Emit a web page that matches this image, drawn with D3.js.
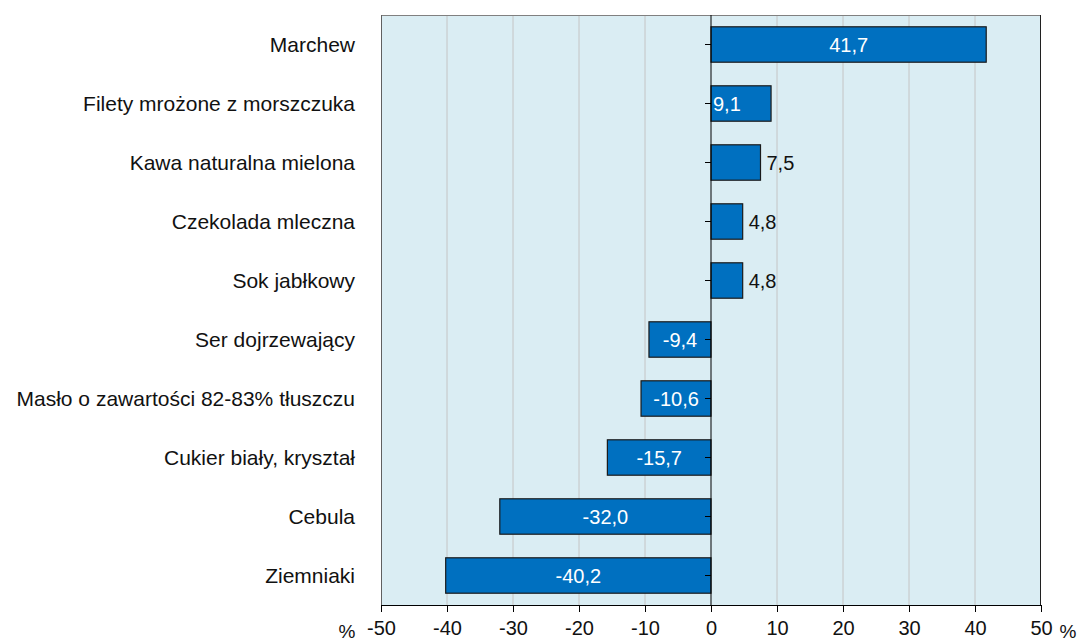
<!DOCTYPE html>
<html>
<head>
<meta charset="utf-8">
<script src="https://cdn.jsdelivr.net/npm/d3@7"></script>
<style>
  body { margin: 0; background: #fff; }
  text { font-family: "Liberation Sans", Arial, sans-serif; }
</style>
</head>
<body>
<div id="chart"></div>
<script>
var categories = ["Marchew", "Filety mrożone z morszczuka", "Kawa naturalna mielona",
    "Czekolada mleczna", "Sok jabłkowy", "Ser dojrzewający",
    "Masło o zawartości 82-83% tłuszczu", "Cukier biały, kryształ", "Cebula", "Ziemniaki"];
var values = [41.7, 9.1, 7.5, 4.8, 4.8, -9.4, -10.6, -15.7, -32.0, -40.2];
var xTicks = [-50, -40, -30, -20, -10, 0, 10, 20, 30, 40, 50];

var W = 1084, H = 642;
var margin = { top: 15, right: 43, bottom: 37, left: 381 },
    width = W - margin.left - margin.right,
    height = H - margin.top - margin.bottom;

var svg = d3.select("#chart").append("svg")
    .attr("width", W).attr("height", H)
    .append("g")
    .attr("transform", "translate(" + margin.left + "," + margin.top + ")");

var x = d3.scaleLinear().domain([-50, 50]).range([0, width]);
var y = d3.scaleBand().domain(categories).range([0, height]).paddingInner(0.4).paddingOuter(0.2);
var yc = d3.scaleBand().domain(categories).range([0, height]);

// background
svg.append("rect").attr("width", width).attr("height", height).attr("fill", "#daedf3");

// gridlines
svg.selectAll(".grid").data(xTicks.filter(function (d) { return d != 0 && Math.abs(d) != 50; }))
    .enter().append("line")
    .attr("x1", function (d) { return x(d); }).attr("x2", function (d) { return x(d); })
    .attr("y1", 0).attr("y2", height)
    .attr("stroke", "#c4c4c4").attr("stroke-width", 1);

// frame
svg.append("line").attr("x1", 0).attr("x2", width).attr("y1", 0.5).attr("y2", 0.5).attr("stroke", "#808080");
svg.append("line").attr("x1", 0.5).attr("x2", 0.5).attr("y1", 0).attr("y2", height).attr("stroke", "#606060");
svg.append("line").attr("x1", width - 0.5).attr("x2", width - 0.5).attr("y1", 0).attr("y2", height).attr("stroke", "#202020");

// bars
svg.selectAll(".bar").data(values).enter().append("rect")
    .attr("x", function (d) { return x(Math.min(0, d)); })
    .attr("y", function (d, i) { return y(categories[i]); })
    .attr("width", function (d) { return Math.abs(x(d) - x(0)); })
    .attr("height", y.bandwidth())
    .attr("fill", "#0070c0")
    .attr("stroke", "#1a1a1a").attr("stroke-width", 1.2);

// zero line
svg.append("line").attr("x1", x(0)).attr("x2", x(0)).attr("y1", 0).attr("y2", height)
    .attr("stroke", "#000").attr("stroke-width", 1);

// category ticks on zero line
svg.selectAll(".ytick").data(categories).enter().append("line")
    .attr("x1", x(0) - 6).attr("x2", x(0))
    .attr("y1", function (d) { return yc(d) + yc.bandwidth() / 2; })
    .attr("y2", function (d) { return yc(d) + yc.bandwidth() / 2; })
    .attr("stroke", "#000");

// category labels
svg.selectAll(".cat").data(categories).enter().append("text")
    .attr("x", -26)
    .attr("y", function (d) { return yc(d) + yc.bandwidth() / 2; })
    .attr("dy", "0.36em")
    .attr("text-anchor", "end")
    .attr("font-size", "21px")
    .attr("fill", "#111")
    .text(function (d) { return d; });

// value labels
var fmt = function (v) { return v.toFixed(1).replace(".", ","); };
svg.selectAll(".val").data(values).enter().append("text")
    .attr("x", function (d) {
        if (d > 0 && d < 9) return x(d) + 6;
        if (d > 0 && d < 10) return x(0) + 2;
        return (x(d) + x(0)) / 2;
    })
    .attr("y", function (d, i) { return yc(categories[i]) + yc.bandwidth() / 2; })
    .attr("dy", "0.36em")
    .attr("text-anchor", function (d) { return (d > 0 && d < 10) ? "start" : "middle"; })
    .attr("font-size", "20px")
    .attr("fill", function (d) { return (d > 0 && d < 9) ? "#111" : "#fff"; })
    .text(fmt);

// x axis
var xAxis = svg.append("g")
    .attr("transform", "translate(0," + height + ")")
    .call(d3.axisBottom(x).tickValues(xTicks).tickSize(7).tickPadding(9)
        .tickFormat(function (d) { return String(d); }));
xAxis.select(".domain").attr("stroke", "#000").attr("d", "M0.5,0.5H" + width);
xAxis.selectAll(".tick line").attr("stroke", "#000");
xAxis.selectAll("text").attr("font-size", "20px").attr("fill", "#111")
    .attr("font-family", "'Liberation Sans', Arial, sans-serif");

svg.append("text").attr("x", -34).attr("y", height + 33)
    .attr("font-size", "19px").attr("fill", "#111").attr("text-anchor", "middle").text("%");
svg.append("text").attr("x", width + 27).attr("y", height + 33)
    .attr("font-size", "19px").attr("fill", "#111").attr("text-anchor", "middle").text("%");
</script>
</body>
</html>
